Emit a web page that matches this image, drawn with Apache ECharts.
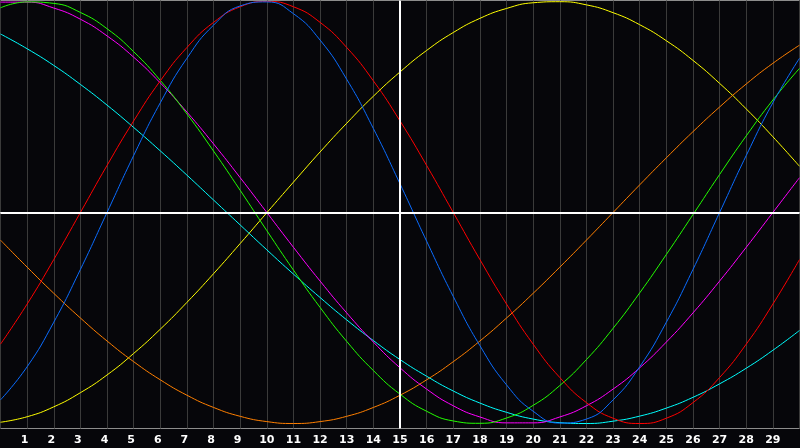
<!DOCTYPE html>
<html>
<head>
<meta charset="utf-8">
<script src="https://cdn.jsdelivr.net/npm/echarts@6/dist/echarts.min.js"></script>
<style>
  html, body { margin: 0; padding: 0; background: #06060a; }
  #chart { width: 800px; height: 448px; }
</style>
</head>
<body>
<div id="chart"></div>
<script>
// x positions (days) and tick labels
const days = [0,1,2,3,4,5,6,7,8,9,10,11,12,13,14,15,16,17,18,19,20,21,22,23,24,25,26,27,28,29,30];
const dayLabels = ['1','2','3','4','5','6','7','8','9','10','11','12','13','14','15','16','17','18','19','20','21','22','23','24','25','26','27','28','29'];
const todayDay = 15;

// curve values (-1 .. 1)
const blueVals = [-0.888,-0.731,-0.520,-0.270,0.000,0.270,0.520,0.731,0.888,0.979,0.998,0.942,0.817,0.631,0.398,0.136,-0.136,-0.398,-0.631,-0.817,-0.942,-0.998,-0.979,-0.888,-0.731,-0.520,-0.270,0.000,0.270,0.520,0.731];
const redVals = [-0.624,-0.434,-0.223,0.000,0.223,0.434,0.624,0.782,0.901,0.975,1.000,0.975,0.901,0.782,0.624,0.434,0.223,0.000,-0.223,-0.434,-0.624,-0.782,-0.901,-0.975,-1.000,-0.975,-0.901,-0.782,-0.624,-0.434,-0.223];
const greenVals = [0.970,0.998,0.991,0.948,0.871,0.762,0.626,0.467,0.291,0.105,-0.086,-0.273,-0.450,-0.611,-0.749,-0.861,-0.942,-0.988,-0.999,-0.974,-0.914,-0.820,-0.697,-0.549,-0.381,-0.199,-0.010,0.180,0.363,0.533,0.683];
const magentaVals = [0.997,0.997,0.969,0.916,0.837,0.736,0.614,0.476,0.325,0.165,0.000,-0.165,-0.325,-0.476,-0.614,-0.736,-0.837,-0.916,-0.969,-0.997,-0.997,-0.969,-0.916,-0.837,-0.736,-0.614,-0.476,-0.325,-0.165,0.000,0.165];
const yellowVals = [-0.994,-0.968,-0.921,-0.854,-0.770,-0.668,-0.553,-0.426,-0.290,-0.147,-0.001,0.144,0.287,0.423,0.551,0.666,0.768,0.853,0.920,0.967,0.994,0.999,0.984,0.947,0.890,0.814,0.721,0.612,0.491,0.359,0.219];
const orangeVals = [-0.131,-0.259,-0.383,-0.500,-0.609,-0.707,-0.793,-0.866,-0.924,-0.966,-0.991,-1.000,-0.991,-0.966,-0.924,-0.866,-0.793,-0.707,-0.609,-0.500,-0.383,-0.259,-0.131,0.000,0.131,0.259,0.383,0.500,0.609,0.707,0.793];
const cyanVals = [0.846,0.776,0.697,0.607,0.509,0.403,0.292,0.177,0.059,-0.059,-0.177,-0.292,-0.403,-0.509,-0.607,-0.697,-0.776,-0.846,-0.903,-0.947,-0.979,-0.996,-1.000,-0.989,-0.965,-0.927,-0.876,-0.812,-0.738,-0.653,-0.559];

const curves = [
  { name: 'Aesthetic', values: yellowVals, color: '#ffff00' },
  { name: 'Awareness', values: orangeVals, color: '#ff7f00' },
  { name: 'Spiritual', values: cyanVals, color: '#00ffff' },
  { name: 'Intuitive', values: magentaVals, color: '#ff00ff' },
  { name: 'Intellectual', values: greenVals, color: '#22ff00' },
  { name: 'Emotional', values: redVals, color: '#ff0000' },
  { name: 'Physical', values: blueVals, color: '#0a6cff' }
];

const chart = echarts.init(document.getElementById('chart'));

const series = [{
  type: 'line',
  data: [],
  silent: true,
  z: 1,
  markLine: {
    silent: true,
    symbol: ['none', 'none'],
    label: { show: false },
    lineStyle: { color: '#ffffff', type: 'solid', width: 2 },
    data: [{ xAxis: todayDay }, { yAxis: 0 }]
  }
}];
curves.forEach(c => {
  series.push({
    name: c.name,
    type: 'line',
    data: days.map((d, i) => [d, c.values[i]]),
    smooth: true,
    showSymbol: false,
    symbol: 'none',
    z: 3,
    lineStyle: { color: c.color, width: 1 },
    itemStyle: { color: c.color }
  });
});

chart.setOption({
  animation: false,
  backgroundColor: '#06060a',
  grid: {
    left: 0.5, right: 0.5, top: 0.5, bottom: 19.5,
    show: true,
    borderColor: '#8c8c8c',
    borderWidth: 1,
    backgroundColor: 'transparent'
  },
  xAxis: {
    type: 'value',
    min: 0,
    max: 30,
    interval: 1,
    axisLine: { show: true, lineStyle: { color: '#a0a0a0', width: 1 } },
    axisTick: { show: false },
    splitLine: { show: true, lineStyle: { color: '#3a3a3a', width: 1 } },
    axisLabel: {
      show: true,
      margin: 6,
      color: '#ffffff',
      fontFamily: 'DejaVu Sans',
      fontWeight: 'bold',
      fontSize: 11,
      showMinLabel: false,
      showMaxLabel: false,
      formatter: function (v) {
        const idx = Math.round(v) - 1;
        if (idx < 0 || idx >= dayLabels.length) return '';
        const t = dayLabels[idx];
        return t.length === 1 ? '{s|' + t + '}' : t;
      },
      rich: {
        s: {
          color: '#ffffff',
          fontFamily: 'DejaVu Sans',
          fontWeight: 'bold',
          fontSize: 11,
          padding: [0, 5, 0, 0]
        }
      }
    }
  },
  yAxis: {
    type: 'value',
    min: -1.0237,
    max: 1.0047,
    show: false,
    splitLine: { show: false }
  },
  series: series
});
</script>
</body>
</html>
